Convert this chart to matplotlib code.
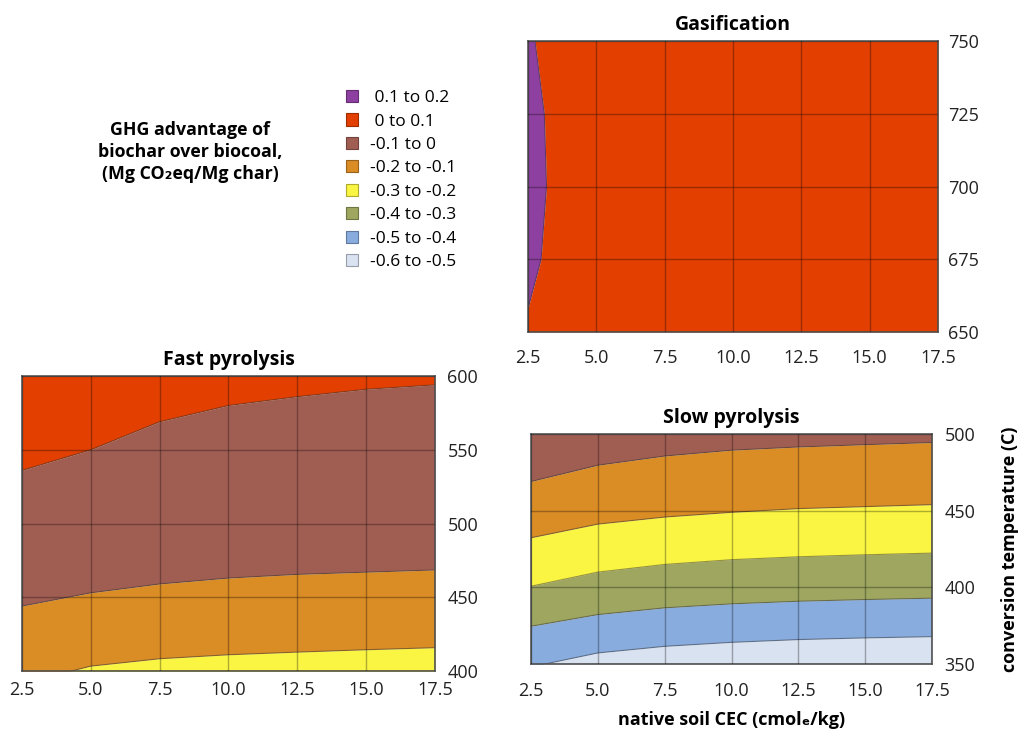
import matplotlib.pyplot as plt
from matplotlib.patches import Patch
from matplotlib.colors import to_rgb

plt.rcParams['font.family'] = ['Open Sans', 'DejaVu Sans']

cec = [2.5, 5.0, 7.5, 10.0, 12.5, 15.0, 17.5]

# gasification: CEC at which the advantage drops below 0.1, per temperature
gas_temp = [650, 658, 675, 700, 725, 750]
gas_edge = [2.5, 2.5, 2.98, 3.18, 3.10, 2.76]

# fast pyrolysis: temperature of each contour line at every CEC value
fast_0 = [536, 550, 569, 580, 586, 591, 594]
fast_m01 = [444, 453, 459, 463, 465.5, 467, 468.5]
fast_m02 = [391.5, 403.3, 408.3, 411, 412.8, 414.4, 415.8]

# slow pyrolysis contour lines
slow_m01 = [469, 479.6, 485.6, 489.4, 491.5, 493, 494.4]
slow_m02 = [432.3, 441.2, 445.8, 448.9, 451.3, 452.6, 453.9]
slow_m03 = [400.7, 409.9, 414.9, 418, 419.9, 421.2, 422.3]
slow_m04 = [374.6, 382.2, 386.6, 389.2, 390.9, 392, 392.9]
slow_m05 = [348.1, 357.2, 361.5, 364.1, 365.9, 367, 367.8]

bins = [' 0.1 to 0.2', ' 0 to 0.1', '-0.1 to 0', '-0.2 to -0.1',
        '-0.3 to -0.2', '-0.4 to -0.3', '-0.5 to -0.4', '-0.6 to -0.5']
colors = ['#8E40A0', '#E23F00', '#A05E53', '#DA8C25',
          '#FAF542', '#9EA660', '#88ACDE', '#D9E2F1']
col = dict(zip([b.strip() for b in bins], colors))

fig = plt.figure(figsize=(10.21, 7.38), dpi=100)

def style(ax, ylim, yticks, xpad, ypad):
    ax.set_xlim(2.5, 17.5)
    ax.set_ylim(*ylim)
    ax.set_xticks(cec)
    ax.set_xticklabels(['%.1f' % c for c in cec])
    ax.set_yticks(yticks)
    ax.yaxis.tick_right()
    ax.tick_params(length=0, labelsize=13, colors='#222222')
    ax.tick_params(axis='x', pad=xpad)
    ax.tick_params(axis='y', pad=ypad)
    ax.grid(True, color='black', alpha=0.3, lw=1)
    ax.set_axisbelow(False)
    for s in ax.spines.values():
        s.set_color('#555555')
        s.set_linewidth(1.2)

def edge(ax, x, y):
    ax.plot(x, y, color='#333333', lw=0.8, alpha=0.5, zorder=2)

# Gasification
ax = fig.add_axes([0.5171, 0.5501, 0.4016, 0.3943])
ax.fill_betweenx(gas_temp, 2.5, gas_edge, color=col['0.1 to 0.2'], lw=0)
ax.fill_betweenx(gas_temp, gas_edge, 17.5, color=col['0 to 0.1'], lw=0)
ax.plot(gas_edge, gas_temp, color='#333333', lw=0.8, alpha=0.5, zorder=2)
style(ax, (650, 750), [650, 675, 700, 725, 750], 12, 7)
ax.set_title('Gasification', fontsize=14, fontweight='bold', pad=8)

# Fast pyrolysis
ax = fig.add_axes([0.0215, 0.0908, 0.4045, 0.3997])
ax.fill_between(cec, fast_0, 600, color=col['0 to 0.1'], lw=0)
ax.fill_between(cec, fast_m01, fast_0, color=col['-0.1 to 0'], lw=0)
ax.fill_between(cec, fast_m02, fast_m01, color=col['-0.2 to -0.1'], lw=0)
ax.fill_between(cec, 380, fast_m02, color=col['-0.3 to -0.2'], lw=0)
for line in (fast_0, fast_m01, fast_m02):
    edge(ax, cec, line)
style(ax, (400, 600), [400, 450, 500, 550, 600], 7.5, 9)
ax.set_title('Fast pyrolysis', fontsize=14, fontweight='bold', pad=8)

# Slow pyrolysis
ax = fig.add_axes([0.5201, 0.1003, 0.3928, 0.3117])
ax.fill_between(cec, slow_m01, 500, color=col['-0.1 to 0'], lw=0)
ax.fill_between(cec, slow_m02, slow_m01, color=col['-0.2 to -0.1'], lw=0)
ax.fill_between(cec, slow_m03, slow_m02, color=col['-0.3 to -0.2'], lw=0)
ax.fill_between(cec, slow_m04, slow_m03, color=col['-0.4 to -0.3'], lw=0)
ax.fill_between(cec, slow_m05, slow_m04, color=col['-0.5 to -0.4'], lw=0)
ax.fill_between(cec, 340, slow_m05, color=col['-0.6 to -0.5'], lw=0)
for line in (slow_m01, slow_m02, slow_m03, slow_m04, slow_m05):
    edge(ax, cec, line)
style(ax, (350, 500), [350, 400, 450, 500], 13, 9)
ax.set_title('Slow pyrolysis', fontsize=14, fontweight='bold', pad=8)
ax.set_xlabel('native soil CEC (cmolₑ/kg)', fontsize=13, fontweight='bold',
              labelpad=8)

fig.text(1010 / 1021, 1 - 549 / 738, 'conversion temperature (C)', rotation=90,
         ha='center', va='center', fontsize=13, fontweight='bold')

fig.text(190 / 1021, 1 - 152 / 738,
         'GHG advantage of\nbiochar over biocoal,\n(Mg CO₂eq/Mg char)',
         ha='center', va='center', fontsize=12.8, fontweight='bold',
         linespacing=1.3)

handles = [Patch(facecolor=c, edgecolor=tuple(v * 0.7 for v in to_rgb(c)), lw=0.8)
           for c in colors]
fig.legend(handles, bins, loc='upper left',
           bbox_to_anchor=(346 / 1021, 1 - 90 / 738), frameon=False,
           fontsize=12.5, handlelength=0.7, handleheight=0.7,
           handletextpad=0.7, labelspacing=0.42, borderpad=0, borderaxespad=0)

fig.savefig('out.png', dpi=100)
